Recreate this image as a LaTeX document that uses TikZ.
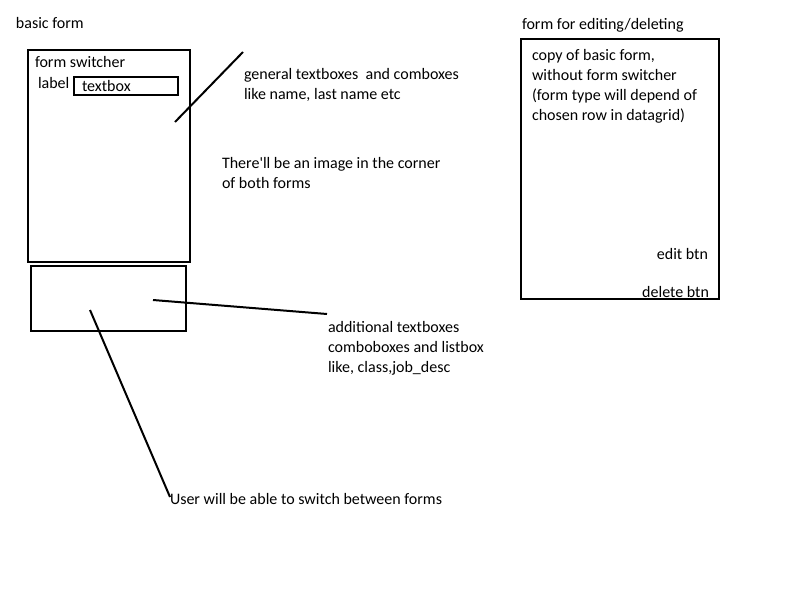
\documentclass[tikz,border=0pt]{standalone}
\usepackage{fontspec}
\setmainfont{Carlito}
\begin{document}
\begin{tikzpicture}[x=0.75pt,y=-0.75pt,
  every node/.style={inner sep=0pt,outer sep=0pt,font=\fontsize{12}{15}\selectfont},
  txt/.style={anchor=base west,align=left},
  txtr/.style={anchor=base east,align=right},
  frame/.style={draw=black,line width=1.5pt},
  conn/.style={draw=black,line width=1.5pt}]
\useasboundingbox[fill=white] (0,0) rectangle (800,600);
% boxes
\draw[frame] (28,50) rectangle (190,262);
\draw[frame] (74,77) rectangle (178,95);
\draw[frame] (31,266) rectangle (186,331);
\draw[frame] (521,39) rectangle (719,299);
% texts
\node[txt] (basic) at (16,28) {basic form};
\node[txt] (switcher) at (35,67) {form switcher};
\node[txt] (label) at (38,88) {label};
\node[txt] (textbox) at (82,91) {textbox};
\node[txt] (general) at (244,79) {general textboxes\ \ and comboxes};
\node[txt] (general2) at (244,99) {like name, last name etc};
\node[txt] (image) at (222,168) {There\textquotesingle ll be an image in the corner};
\node[txt] (image2) at (222,188) {of both forms};
\node[txt] (additional) at (328,332) {additional textboxes};
\node[txt] (additional2) at (328,352) {comboboxes and listbox};
\node[txt] (additional3) at (328,372) {like, class,job\_desc};
\node[txt] (user) at (170,504) {User will be able to switch between forms};
\node[txt] (editform) at (522,29) {form for editing/deleting};
\node[txt] (copy) at (532,60) {copy of basic form,};
\node[txt] (copy2) at (532,80) {without form switcher};
\node[txt] (copy3) at (532,100) {(form type will depend of};
\node[txt] (copy4) at (532,120) {chosen row in datagrid)};
\node[txtr] (edit) at (708,259) {edit btn};
\node[txtr] (delete) at (709,297) {delete btn};
% connectors
\coordinate (l1a) at (243,52);
\coordinate (l1b) at (175,122);
\coordinate (l2a) at (153,300);
\coordinate (l2b) at (327,314);
\coordinate (l3a) at (90,310);
\coordinate (l3b) at (170,497);
\draw[conn] (l1a) -- (l1b);
\draw[conn] (l2a) -- (l2b);
\draw[conn] (l3a) -- (l3b);
\end{tikzpicture}
\end{document}
